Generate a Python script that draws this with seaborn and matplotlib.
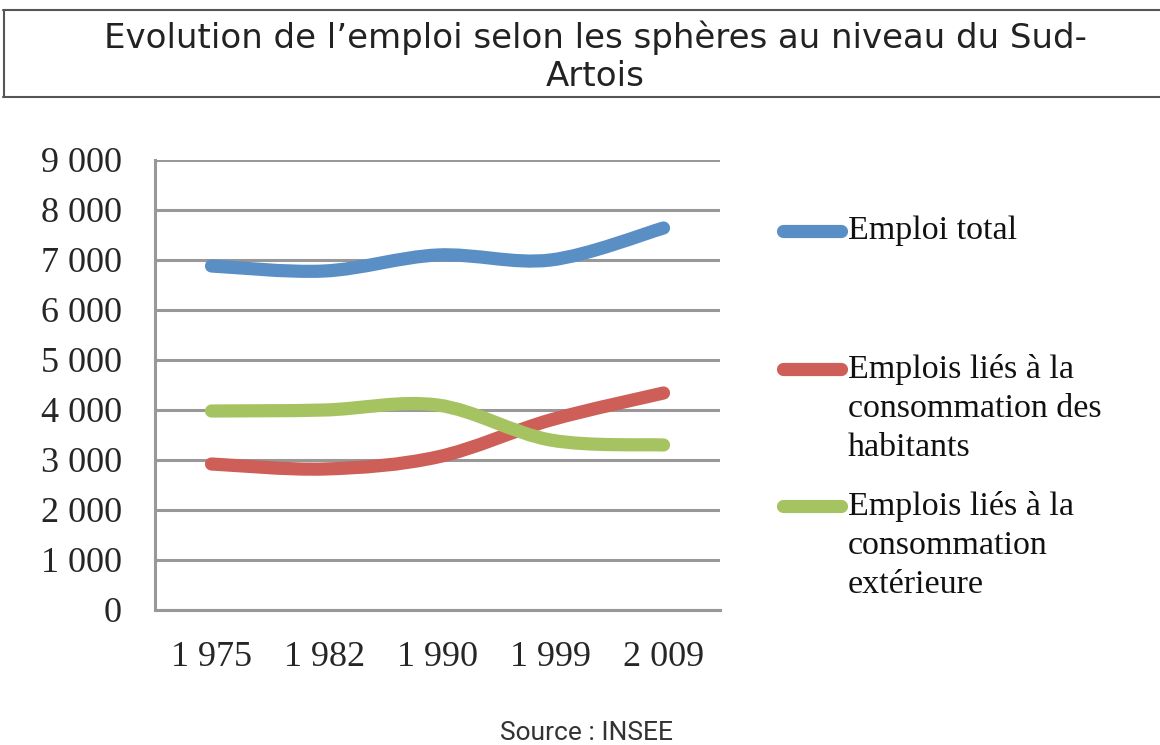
import numpy as np
import pandas as pd
import matplotlib
matplotlib.use("Agg")
import matplotlib.pyplot as plt
import seaborn as sns
from matplotlib.path import Path
from matplotlib.patches import PathPatch
from matplotlib.lines import Line2D

# données
annees = ["1 975", "1 982", "1 990", "1 999", "2 009"]
emploi_total = [6880, 6780, 7100, 7000, 7640]
conso_habitants = [2920, 2820, 3060, 3800, 4340]
conso_exterieure = [3980, 4000, 4100, 3400, 3300]

series = ["Emploi total",
          "Emplois liés à la\nconsommation des\nhabitants",
          "Emplois liés à la\nconsommation\nextérieure"]
couleurs = ["#5A8FC6", "#CD5F58", "#A6C362"]
y_ticks = [0, 1000, 2000, 3000, 4000, 5000, 6000, 7000, 8000, 9000]
y_labels = ["0", "1 000", "2 000", "3 000", "4 000", "5 000",
            "6 000", "7 000", "8 000", "9 000"]

titre = "Evolution de l\u2019emploi selon les sphères au niveau du Sud-\nArtois"
source = "Source : INSEE"

df = pd.DataFrame({
    "pos": list(range(len(annees))) * 3,
    "valeur": emploi_total + conso_habitants + conso_exterieure,
    "serie": [s for s in series for _ in annees],
})


def courbe_lisse(xs, ys):
    # lissage type Excel (Bezier cardinal)
    pts = np.column_stack([xs, ys])
    n = len(pts)
    verts = [pts[0]]
    codes = [Path.MOVETO]
    for i in range(n - 1):
        p0 = pts[max(i - 1, 0)]
        p1 = pts[i]
        p2 = pts[i + 1]
        p3 = pts[min(i + 2, n - 1)]
        verts += [p1 + (p2 - p0) / 6, p2 - (p3 - p1) / 6, p2]
        codes += [Path.CURVE4] * 3
    return Path(verts, codes)


sns.set_style("white")
serif = ["Liberation Serif", "DejaVu Serif"]
gris = "#989898"

fig = plt.figure(figsize=(11.6, 7.45), dpi=100)
ax = fig.add_axes([155 / 1160, 1 - 610 / 745, 565 / 1160, 450 / 745])

sns.lineplot(data=df, x="pos", y="valeur", hue="serie", hue_order=series,
             palette=couleurs, legend=False, ax=ax)

# remplacer les segments droits par des courbes lissées
for line in list(ax.get_lines()):
    xs, ys = line.get_data()
    ax.add_patch(PathPatch(courbe_lisse(np.asarray(xs, float), np.asarray(ys, float)),
                           fill=False, edgecolor=line.get_color(), lw=9.5,
                           capstyle="round", joinstyle="round", zorder=3))
    line.remove()

ax.set_xlim(-0.5, len(annees) - 0.5)
ax.set_ylim(0, 9000)
ax.set_yticks(y_ticks)
ax.set_yticklabels(y_labels, fontfamily=serif, fontsize=26)
ax.set_xticks(range(len(annees)))
ax.set_xticklabels(annees, fontfamily=serif, fontsize=26)
ax.set_xticks(np.arange(-0.5, len(annees)), minor=True)
ax.tick_params(axis="x", which="major", length=0, pad=22)
ax.tick_params(axis="x", which="minor", length=8, width=2.2, color=gris,
               direction="out")
ax.tick_params(axis="y", length=6, width=2.2, color=gris, pad=18,
               direction="out")
ax.set_xlabel("")
ax.set_ylabel("")
ax.grid(axis="y", color=gris, lw=2.2)
ax.set_axisbelow(True)
for s in ["top", "right"]:
    ax.spines[s].set_visible(False)
for s in ["left", "bottom"]:
    ax.spines[s].set_color(gris)
    ax.spines[s].set_linewidth(2.2)

# légende manuelle
leg_y = [231, 369, 506]
for lab, col, yy in zip(series, couleurs, leg_y):
    yf = 1 - yy / 745
    fig.add_artist(Line2D([783 / 1160, 841 / 1160], [yf, yf], color=col,
                          lw=9.5, solid_capstyle="round"))
    fig.text(848 / 1160, 1 - (yy - 15) / 745, lab, fontfamily=serif,
             fontsize=24.5, va="top", ha="left", linespacing=1.36,
             color="#111111")

# titre encadré
fig.add_artist(Line2D([0.003, 1.0], [1 - 10 / 745, 1 - 10 / 745],
                      color="#555555", lw=1.5))
fig.add_artist(Line2D([0.0035, 0.0035], [1 - 10 / 745, 1 - 97 / 745],
                      color="#555555", lw=1.5))
fig.add_artist(Line2D([0.003, 1.0], [1 - 97 / 745, 1 - 97 / 745],
                      color="#555555", lw=1.5))
fig.text(595 / 1160, 1 - 57 / 745, titre, ha="center", va="center",
         fontsize=24.5, family="DejaVu Sans", color="#222222",
         linespacing=1.2)

fig.text(587 / 1160, 1 - 733 / 745, source, ha="center", va="center",
         fontsize=19, family="Roboto", color="#333333")

fig.savefig("out.png", dpi=100)
